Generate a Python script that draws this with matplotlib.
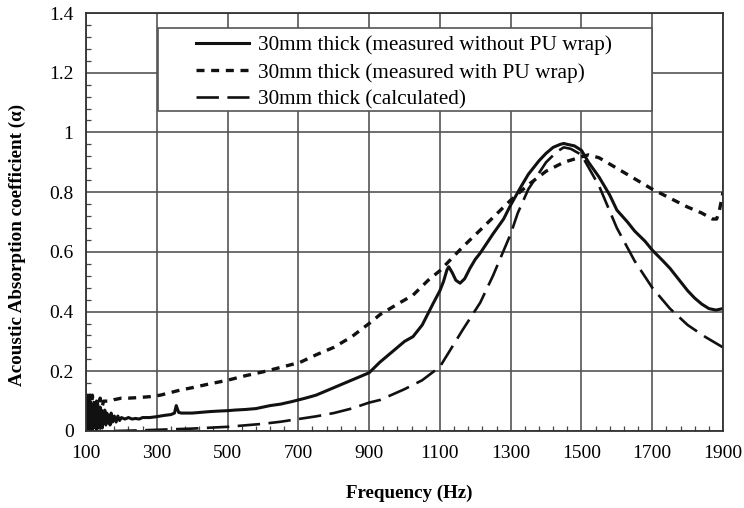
import matplotlib
matplotlib.use("Agg")
import matplotlib.pyplot as plt
from matplotlib.ticker import FixedLocator, MultipleLocator
from matplotlib.patches import Rectangle

# Measured without PU wrap (solid)
f_solid = [100,102,104,106,108,110,112,114,116,118,120,122,124,126,128,130,132,134,136,138,140,142,144,146,148,150,153,156,159,162,165,168,171,175,180,185,190,195,200,210,220,230,240,250,260,280,300,320,340,350,355,358,362,370,380,400,420,450,480,500,520,550,580,600,620,650,680,700,720,750,780,800,830,850,880,900,930,950,980,1000,1024,1050,1080,1100,1110,1120,1125,1135,1145,1157,1170,1185,1200,1214,1250,1280,1300,1330,1350,1380,1400,1420,1440,1450,1460,1480,1500,1520,1550,1580,1600,1630,1650,1680,1700,1730,1750,1780,1800,1820,1840,1860,1880,1900]
a_solid = [0.06,0.0,0.09,0.01,0.08,0.0,0.1,0.02,0.07,0.0,0.09,0.01,0.08,0.02,0.07,0.0,0.09,0.02,0.06,0.01,0.08,0.02,0.07,0.01,0.06,0.03,0.07,0.02,0.06,0.03,0.05,0.02,0.06,0.03,0.05,0.03,0.05,0.035,0.045,0.04,0.045,0.04,0.042,0.04,0.045,0.045,0.048,0.052,0.055,0.06,0.085,0.075,0.062,0.06,0.06,0.06,0.062,0.065,0.067,0.068,0.07,0.072,0.075,0.08,0.085,0.09,0.098,0.104,0.11,0.12,0.135,0.145,0.16,0.17,0.185,0.195,0.23,0.25,0.28,0.3,0.316,0.355,0.425,0.47,0.5,0.54,0.55,0.53,0.505,0.495,0.51,0.545,0.575,0.596,0.66,0.71,0.757,0.82,0.86,0.905,0.93,0.95,0.96,0.963,0.96,0.955,0.94,0.9,0.85,0.79,0.74,0.7,0.67,0.635,0.606,0.57,0.545,0.5,0.47,0.445,0.425,0.41,0.405,0.41]

# Measured with PU wrap (short dashes)
f_pu = [100,103,106,109,112,115,118,121,124,127,130,135,140,145,150,160,170,180,200,220,250,280,310,366,400,450,500,550,600,650,705,750,800,850,900,931,980,1024,1067,1100,1165,1214,1250,1300,1350,1400,1450,1500,1520,1550,1600,1650,1700,1750,1800,1840,1870,1882,1890,1900]
a_pu = [0.1,0.05,0.13,0.06,0.12,0.07,0.12,0.08,0.11,0.07,0.1,0.08,0.11,0.08,0.1,0.1,0.1,0.105,0.11,0.11,0.112,0.115,0.12,0.137,0.145,0.158,0.17,0.185,0.198,0.213,0.23,0.255,0.28,0.315,0.36,0.39,0.425,0.455,0.505,0.537,0.617,0.673,0.715,0.773,0.825,0.87,0.9,0.918,0.925,0.915,0.88,0.845,0.81,0.78,0.75,0.73,0.71,0.71,0.74,0.8]

# Calculated (long dashes)
f_calc = [180,250,300,350,400,450,500,550,600,650,700,750,800,850,900,931,1000,1050,1100,1165,1214,1250,1300,1320,1350,1400,1430,1450,1470,1500,1550,1600,1650,1700,1750,1800,1850,1900]
a_calc = [0.0,0.002,0.004,0.006,0.008,0.011,0.014,0.019,0.024,0.031,0.04,0.049,0.06,0.075,0.095,0.104,0.14,0.17,0.215,0.34,0.43,0.52,0.66,0.73,0.81,0.9,0.935,0.95,0.945,0.925,0.82,0.68,0.57,0.48,0.41,0.355,0.315,0.28]

plt.rcParams['font.family'] = ['Liberation Serif', 'DejaVu Serif']

fig = plt.figure(figsize=(7.44, 5.08), dpi=100)
ax = fig.add_axes([0.1156, 0.1516, 0.8562, 0.8228])

c = '#111111'
ax.plot(f_solid, a_solid, color=c, lw=2.2, ls='-', label='30mm thick (measured without PU wrap)')
ax.plot(f_pu, a_pu, color=c, lw=2.4, ls=(0, (2.4, 2.0)), label='30mm thick (measured with PU wrap)')
ax.plot(f_calc, a_calc, color=c, lw=1.9, ls=(0, (8.5, 3.2)), label='30mm thick (calculated)')

ax.set_xlim(100, 1900)
ax.set_ylim(0, 1.4)
ax.set_xticks([100, 300, 500, 700, 900, 1100, 1300, 1500, 1700, 1900])
ax.set_yticks([0, 0.2, 0.4, 0.6, 0.8, 1, 1.2, 1.4])
ax.set_yticklabels(['0', '0.2', '0.4', '0.6', '0.8', '1', '1.2', '1.4'])
ax.xaxis.set_minor_locator(FixedLocator(list(range(100, 1901, 40))))
ax.yaxis.set_minor_locator(MultipleLocator(0.04))
ax.tick_params(which='both', direction='in', color='#444444', labelsize=14)
ax.tick_params(axis='x', which='major', length=0, pad=10)
ax.tick_params(axis='y', which='major', length=0, pad=9)
ax.tick_params(which='minor', length=3.6, width=0.9)
ax.grid(True, which='major', color='#555555', lw=1.2)
for s in ax.spines.values():
    s.set_color('#333333')
    s.set_linewidth(1.3)

ax.set_xlabel('Frequency (Hz)', fontsize=13.7, fontweight='bold')
ax.set_ylabel('Acoustic Absorption coefficient (\u03b1)', fontsize=13.7, fontweight='bold')
ax.xaxis.set_label_coords(0.5075, -0.128)
ax.yaxis.set_label_coords(-0.094, 0.445)

# legend frame
ax.add_patch(Rectangle((0.113, 0.7656), 0.7756, 0.1984, transform=ax.transAxes,
                       facecolor='white', edgecolor='#555555', lw=1.2, zorder=4))
leg = ax.legend(loc='upper left', bbox_to_anchor=(0.172, 0.946), fontsize=15.3, frameon=False,
                handlelength=2.5, handletextpad=0.45, borderpad=0, labelspacing=0.34,
                borderaxespad=0)
leg.set_zorder(5)

fig.savefig('out.png', dpi=100)
